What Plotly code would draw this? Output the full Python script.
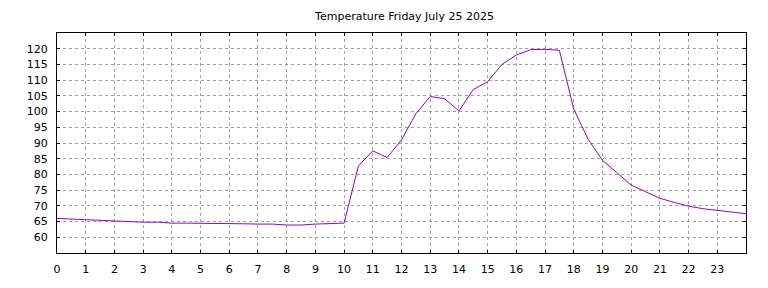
import plotly.graph_objects as go

hours = [i * 0.5 for i in range(49)]
temps = [66.0, 65.8, 65.7, 65.5, 65.2, 64.9, 64.8, 64.8, 64.5, 64.5,
         64.5, 64.5, 64.5, 64.3, 64.2, 64.2, 63.9, 63.9, 64.2, 64.4,
         64.5, 82.7, 87.5, 85.4, 91.0, 99.3, 104.8, 104.1, 100.2, 107.0,
         109.5, 115.0, 118.0, 119.7, 119.8, 119.5, 100.8, 91.2, 84.5, 80.6,
         76.6, 74.5, 72.4, 71.1, 69.9, 69.1, 68.5, 67.9, 67.5]
x_ticks = list(range(0, 24))
y_ticks = list(range(60, 121, 5))
title = "Temperature Friday July 25 2025"

fig = go.Figure()
fig.add_trace(go.Scatter(x=hours, y=temps, mode="lines",
                         line=dict(color="#9400d3", width=1), showlegend=False))

axis_common = dict(showline=True, linecolor="black", linewidth=1, mirror="ticks",
                   ticks="inside", ticklen=3, tickcolor="black", tickwidth=1,
                   showgrid=True, gridcolor="#a0a0a0", griddash="3px,3px", gridwidth=1,
                   zeroline=False, tickfont=dict(family="DejaVu Sans", size=11, color="black"))

fig.update_layout(
    width=768, height=288,
    margin=dict(l=57, r=22, t=33, b=23),
    paper_bgcolor="white", plot_bgcolor="white",
    title=dict(text=title, x=404.5 / 768, xanchor="center", y=1 - 16 / 288, yanchor="middle",
               font=dict(family="DejaVu Sans", size=11, color="black")),
    xaxis=dict(range=[0, 24], tickvals=x_ticks, ticktext=[str(v) for v in x_ticks],
               ticklabelstandoff=6, **axis_common),
    yaxis=dict(range=[55, 125], tickvals=y_ticks, ticktext=[str(v) for v in y_ticks],
               ticklabelstandoff=6, **axis_common),
)

fig.write_html("out.html")
